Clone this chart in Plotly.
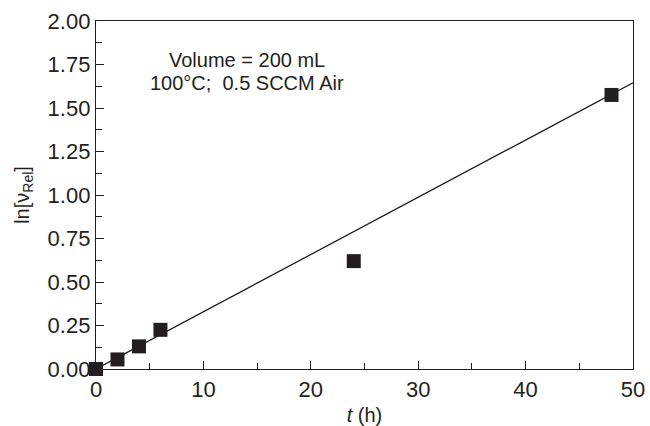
import plotly.graph_objects as go

t_h = [0, 2, 4, 6, 24, 48]
ln_v_rel = [0.0, 0.055, 0.13, 0.225, 0.62, 1.575]
fit_t = [0, 50]
fit_y = [0.0, 1.645]
note_lines = ["Volume = 200 mL", "100°C;  0.5 SCCM Air"]

ink = "#231f20"

fig = go.Figure()
fig.add_trace(go.Scatter(x=fit_t, y=fit_y, mode="lines",
                         line=dict(color="#1a1a1a", width=1.3), showlegend=False))
fig.add_trace(go.Scatter(x=t_h, y=ln_v_rel, mode="markers",
                         marker=dict(symbol="square", size=14, color=ink),
                         showlegend=False, cliponaxis=False))

for txt, yy in zip(note_lines, [0.888, 0.822]):
    fig.add_annotation(x=0.281, y=yy, xref="paper", yref="paper", text=txt,
                       xanchor="center", yanchor="middle",
                       showarrow=False, font=dict(size=20, color=ink))

axis_common = dict(showline=True, linecolor=ink, linewidth=1.3, mirror=True,
                   ticks="inside", ticklen=8, tickcolor=ink, showgrid=False,
                   zeroline=False, automargin=False,
                   tickfont=dict(size=22, color=ink))

fig.update_xaxes(range=[0, 50], dtick=10,
                 minor=dict(dtick=5, ticks="inside", ticklen=6, tickcolor=ink),
                 title=dict(text="<i>t</i> (h)", font=dict(size=20, color=ink), standoff=9),
                 **axis_common)
fig.update_yaxes(range=[0, 2], dtick=0.25, tickformat=".2f",
                 minor=dict(dtick=0.125, ticks="inside", ticklen=6, tickcolor=ink),
                 title=dict(text="ln[ν<sub>Rel</sub>]", font=dict(size=20, color=ink), standoff=12),
                 **axis_common)

fig.update_layout(width=650, height=426, plot_bgcolor="white", paper_bgcolor="white",
                  margin=dict(l=96, r=17, t=21, b=57),
                  font=dict(family="Liberation Sans, Arial, sans-serif", color=ink))

fig.write_html("out.html", config={"displayModeBar": False},
               post_script="document.body.style.margin='0';")
